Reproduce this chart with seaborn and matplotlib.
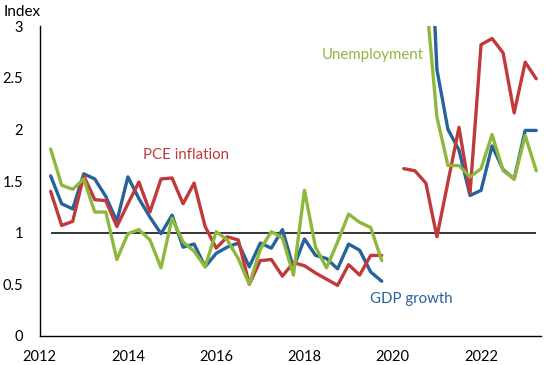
import numpy as np
import pandas as pd
import matplotlib
matplotlib.use("Agg")
import matplotlib.pyplot as plt
import seaborn as sns

# quarterly dates, 2012Q2 .. 2023Q2
quarters = [2012.25 + 0.25 * i for i in range(45)]

gdp = [1.55, 1.28, 1.23, 1.57, 1.52, 1.35, 1.11, 1.54, 1.33, 1.15,
       0.99, 1.17, 0.86, 0.89, 0.67, 0.80, 0.86, 0.90, 0.67, 0.90,
       0.85, 1.03, 0.66, 0.94, 0.78, 0.75, 0.65, 0.89, 0.83, 0.62,
       0.53, np.nan, np.nan, np.nan, 4.9, 2.58, 2.00, 1.80, 1.36, 1.41,
       1.84, 1.61, 1.52, 1.99, 1.99]
pce = [1.40, 1.07, 1.11, 1.55, 1.32, 1.31, 1.06, 1.28, 1.49, 1.20,
       1.52, 1.53, 1.28, 1.48, 1.06, 0.85, 0.96, 0.93, 0.50, 0.73,
       0.74, 0.58, 0.71, 0.68, 0.61, 0.55, 0.49, 0.69, 0.59, 0.78,
       0.78, np.nan, 1.62, 1.60, 1.48, 0.96, 1.49, 2.02, 1.38, 2.82,
       2.88, 2.74, 2.16, 2.65, 2.49]
unemp = [1.81, 1.46, 1.42, 1.52, 1.20, 1.20, 0.74, 0.99, 1.03, 0.93,
         0.66, 1.14, 0.91, 0.82, 0.67, 1.01, 0.93, 0.75, 0.50, 0.84,
         1.01, 0.95, 0.59, 1.41, 0.86, 0.66, 0.91, 1.18, 1.10, 1.05,
         0.73, np.nan, np.nan, np.nan, 3.3, 2.12, 1.65, 1.65, 1.54, 1.62,
         1.95, 1.60, 1.52, 1.94, 1.60]

blue = "#27629a"
red = "#c1393b"
green = "#8db83c"


def segments(name, values):
    # split a series at missing values so the line breaks there
    rows = []
    seg = 0
    for t, v in zip(quarters, values):
        if np.isnan(v):
            seg += 1
            continue
        rows.append({"t": t, "v": v, "series": name, "seg": seg})
    return pd.DataFrame(rows)


sns.set_style("white")
plt.rcParams["font.family"] = ["Lato", "DejaVu Sans"]

fig = plt.figure(figsize=(5.5, 3.65), dpi=100)
ax = fig.add_axes([0.072, 0.0795, 0.911, 0.849])

ax.hlines(1, quarters[0], quarters[-1], color="black", lw=1.1, zorder=1)

for name, vals, col in [("GDP growth", gdp, blue),
                        ("PCE inflation", pce, red),
                        ("Unemployment", unemp, green)]:
    df = segments(name, vals)
    sns.lineplot(data=df, x="t", y="v", units="seg", estimator=None,
                 color=col, lw=2.4, ax=ax, zorder=3)

ax.set_xlim(2012, 2023.35)
ax.set_ylim(0, 3)
ax.set_xlabel("")
ax.set_ylabel("")

ax.set_xticks([2012, 2014, 2016, 2018, 2020, 2022])
ax.set_xticklabels(["2012", "2014", "2016", "2018", "2020", "2022"])
ax.set_xticks([2013, 2015, 2017, 2019, 2021, 2023], minor=True)
ax.set_yticks([0, 0.5, 1, 1.5, 2, 2.5, 3])
ax.set_yticklabels(["0", "0.5", "1", "1.5", "2", "2.5", "3"])
ax.tick_params(axis="both", which="both", direction="out", length=4.3,
               width=1, color="black", labelsize=10.5, labelcolor="black")
ax.tick_params(axis="y", pad=7.5)
ax.tick_params(axis="x", pad=6)

for s in ["top", "right"]:
    ax.spines[s].set_visible(False)
for s in ["left", "bottom"]:
    ax.spines[s].set_color("black")
    ax.spines[s].set_linewidth(1)

ax.text(2014.35, 1.713, "PCE inflation", color=red, fontsize=10.8, va="baseline")
ax.text(2018.39, 2.68, "Unemployment", color=green, fontsize=10.8, va="baseline")
ax.text(2019.49, 0.322, "GDP growth", color=blue, fontsize=10.8, va="baseline")
fig.text(0.006, 0.956, "Index", fontsize=11, color="black", va="baseline")

fig.savefig("out.png", dpi=100)
